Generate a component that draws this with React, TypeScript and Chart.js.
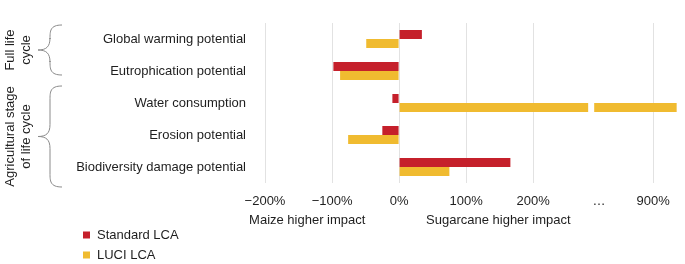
import React, { useEffect, useRef } from "react";
import { Chart, registerables } from "chart.js";

Chart.register(...registerables);

// ---- data ----
const categories = [
  "Global warming potential",
  "Eutrophication potential",
  "Water consumption",
  "Erosion potential",
  "Biodiversity damage potential",
];
const seriesNames = ["Standard LCA", "LUCI LCA"];
const standardLCA = [34, -98, -10, -25, 166];
const luciLCA = [-49, -88, 935, -76, 75];
const tickValues = [-200, -100, 0, 100, 200, 300, 900];
const tickLabels = ["−200%", "−100%", "0%", "100%", "200%", "…", "900%"];
const groupLabels = [["Full life", "cycle"], ["Agricultural stage", "of life cycle"]];
const groupRanges = [[0, 1], [2, 4]];
const sideLabels = ["Maize higher impact", "Sugarcane higher impact"];

// ---- broken axis transform (values above the break are shifted) ----
const BREAK_VALUE = 300;
const BREAK_SHIFT = 521; // 900% sits at display 379
const toDisplay = (v: number) => (v < BREAK_VALUE ? v : v - BREAK_SHIFT);
const tickDisplay = tickValues.map((v, i) => (tickLabels[i] === "…" ? 298 : toDisplay(v)));
const GAP_FROM = 282;
const GAP_TO = 291;

// brace extents (px beyond first / last category centre)
const BRACE_EXT = [[-14, 4], [-17, 20]];

const COLORS = ["#C5202B", "#F0BB30"];
const FONT = "'Liberation Sans', Arial, Helvetica, sans-serif";
const TEXT = "#1e1e1e";

const decorPlugin = {
  id: "decor",
  afterDatasetsDraw(chart: any) {
    const ctx = chart.ctx;
    const x = chart.scales.x;
    chart.data.datasets.forEach((ds: any, di: number) => {
      const meta = chart.getDatasetMeta(di);
      ds.data.forEach((v: number, i: number) => {
        if (v > GAP_TO) {
          const el: any = meta.data[i];
          const h = el.height;
          ctx.save();
          ctx.fillStyle = "#ffffff";
          const x0 = x.getPixelForValue(GAP_FROM);
          const x1 = x.getPixelForValue(GAP_TO);
          ctx.fillRect(x0, el.y - h / 2 - 1, x1 - x0, h + 2);
          ctx.restore();
        }
      });
    });
  },
  afterDraw(chart: any) {
    const ctx = chart.ctx;
    const x = chart.scales.x;
    const y = chart.scales.y;
    ctx.save();
    ctx.font = `13px ${FONT}`;
    ctx.fillStyle = TEXT;
    ctx.textBaseline = "middle";
    ctx.textAlign = "center";
    ctx.fillText(sideLabels[0], x.getPixelForValue(-137), 220);
    ctx.fillText(sideLabels[1], x.getPixelForValue(148), 220);

    groupRanges.forEach((r, gi) => {
      const y0 = y.getPixelForValue(r[0]) + BRACE_EXT[gi][0];
      const y1 = y.getPixelForValue(r[1]) + BRACE_EXT[gi][1];
      const ym = (y0 + y1) / 2;
      const xr = 62, xs = 50, xt = 38;
      ctx.save();
      ctx.strokeStyle = "#8a8a8a";
      ctx.lineWidth = 1;
      ctx.beginPath();
      ctx.moveTo(xr, y0);
      ctx.bezierCurveTo(xs, y0, xs, y0 + 6, xs, y0 + 14);
      ctx.lineTo(xs, ym - 12);
      ctx.bezierCurveTo(xs, ym - 3, xs - 4, ym, xt, ym);
      ctx.bezierCurveTo(xs - 4, ym, xs, ym + 3, xs, ym + 12);
      ctx.lineTo(xs, y1 - 14);
      ctx.bezierCurveTo(xs, y1 - 6, xs, y1, xr, y1);
      ctx.stroke();
      ctx.restore();

      const lines = groupLabels[gi];
      ctx.save();
      ctx.translate(0, ym);
      ctx.rotate(-Math.PI / 2);
      ctx.textAlign = "center";
      ctx.textBaseline = "middle";
      ctx.fillStyle = TEXT;
      ctx.font = `13px ${FONT}`;
      lines.forEach((t, li) => {
        ctx.fillText(t, 0, 10 + li * 16);
      });
      ctx.restore();
    });

    seriesNames.forEach((name, i) => {
      const cy = 235 + i * 20;
      ctx.fillStyle = COLORS[i];
      ctx.fillRect(83, cy - 3.5, 7, 7);
      ctx.fillStyle = TEXT;
      ctx.textAlign = "left";
      ctx.fillText(name, 97, cy);
    });
    ctx.restore();
  },
};

export default function App() {
  const ref = useRef<HTMLCanvasElement | null>(null);
  useEffect(() => {
    if (!ref.current) return;
    const chart = new Chart(ref.current, {
      type: "bar",
      data: {
        labels: categories,
        datasets: [
          { label: seriesNames[0], data: standardLCA.map(toDisplay), backgroundColor: COLORS[0], borderWidth: 0 },
          { label: seriesNames[1], data: luciLCA.map(toDisplay), backgroundColor: COLORS[1], borderWidth: 0 },
        ],
      },
      options: {
        indexAxis: "y",
        animation: false,
        responsive: false,
        devicePixelRatio: 1,
        layout: { padding: { top: 23, right: 7, left: 0, bottom: 0 } },
        datasets: { bar: { categoryPercentage: 0.5625, barPercentage: 1 } },
        plugins: {
          legend: { display: false },
          tooltip: { enabled: false },
          title: { display: false },
        },
        scales: {
          x: {
            type: "linear",
            min: -200,
            max: 416,
            afterBuildTicks: (scale: any) => {
              scale.ticks = tickDisplay.map((v) => ({ value: v }));
            },
            afterFit: (scale: any) => {
              scale.height = 81;
              scale.paddingLeft = 0;
              scale.paddingRight = 0;
            },
            ticks: {
              padding: 11,
              autoSkip: false,
              maxRotation: 0,
              color: TEXT,
              font: { family: FONT, size: 13 },
              callback: (_v: any, i: number) => tickLabels[i],
            },
            grid: {
              drawTicks: false,
              color: (c: any) => (tickLabels[c.index] === "…" ? "rgba(0,0,0,0)" : "#e2e2e2"),
              lineWidth: 1,
            },
            border: { display: false },
          },
          y: {
            type: "category",
            afterFit: (scale: any) => {
              scale.width = 265;
              scale.paddingTop = 0;
              scale.paddingBottom = 0;
            },
            ticks: { padding: 19, color: TEXT, font: { family: FONT, size: 13 } },
            grid: { display: false, drawTicks: false },
            border: { display: false },
          },
        },
      },
      plugins: [decorPlugin],
    } as any);
    return () => chart.destroy();
  }, []);
  return (
    <div style={{ position: "fixed", left: 0, top: 0, width: 685, height: 264, background: "#fff" }}>
      <canvas ref={ref} width={685} height={264} style={{ width: 685, height: 264, display: "block" }} />
    </div>
  );
}
